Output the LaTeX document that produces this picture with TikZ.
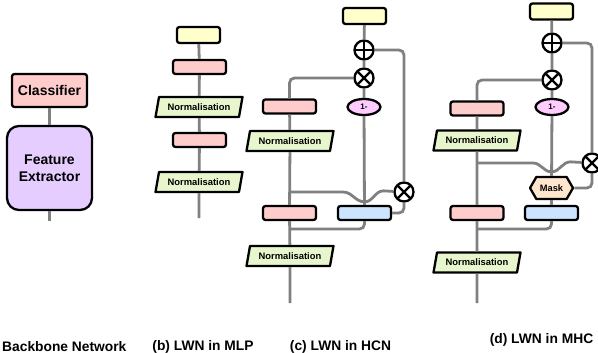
\documentclass[tikz,border=0pt]{standalone}
\usepackage{fontspec}
\setmainfont{Liberation Sans}
\usetikzlibrary{shapes.geometric,shapes.symbols,calc}
\definecolor{wiregray}{RGB}{128,128,128}
\definecolor{inyellow}{RGB}{255,255,204}
\definecolor{fcpink}{RGB}{255,204,204}
\definecolor{normgreen}{RGB}{232,246,206}
\definecolor{lwnblue}{RGB}{204,228,255}
\definecolor{fepurple}{RGB}{229,206,255}
\definecolor{onemagenta}{RGB}{255,204,255}
\definecolor{maskpeach}{RGB}{255,229,204}
\tikzset{
  wire/.style={draw=wiregray, line width=2.8pt, rounded corners=5pt},
  blk/.style={draw=black, line width=2.3pt, rounded corners=2.5pt, inner sep=0pt},
  inbox/.style={blk, fill=inyellow, minimum width=43pt, minimum height=16pt},
  fcbox/.style={blk, fill=fcpink, minimum width=53pt, minimum height=14pt},
  lwnbox/.style={blk, fill=lwnblue, minimum width=53pt, minimum height=14pt},
  normbox/.style={trapezium, trapezium left angle=63, trapezium right angle=117,
    trapezium stretches body, draw=black, line width=2.3pt, line join=round,
    fill=normgreen, minimum width=87pt, minimum height=20pt, inner sep=0pt,
    font=\bfseries\fontsize{9.4}{10}\selectfont},
  opnode/.style={circle, draw=black, line width=2.3pt, fill=white,
    minimum size=19pt, inner sep=0pt},
  plusop/.style={opnode, path picture={
    \draw[line width=2.3pt] (path picture bounding box.north) -- (path picture bounding box.south)
      (path picture bounding box.west) -- (path picture bounding box.east);}},
  timesop/.style={opnode, path picture={
    \draw[line width=2.3pt] (path picture bounding box.north west) -- (path picture bounding box.south east)
      (path picture bounding box.north east) -- (path picture bounding box.south west);}},
  onem/.style={ellipse, draw=black, line width=2.3pt, fill=onemagenta,
    minimum width=33pt, minimum height=16pt, inner sep=0pt,
    font=\bfseries\fontsize{8}{9}\selectfont},
  maskbox/.style={signal, signal to=west and east, signal pointer angle=120,
    draw=black, line width=2.3pt, line join=round, fill=maskpeach,
    minimum width=43pt, minimum height=22pt, inner sep=0pt,
    font=\bfseries\fontsize{9.3}{10}\selectfont},
  caption/.style={font=\bfseries\fontsize{13.8}{16}\selectfont, inner sep=0pt},
}

\begin{document}
\begin{tikzpicture}[x=1pt, y=-1pt]
  \useasboundingbox (0,0) rectangle (598,353);

  % (a) backbone
  \node[blk, fill=fcpink, minimum width=75pt, minimum height=33pt,
    font=\bfseries\fontsize{14}{17}\selectfont] (acls) at (49.5,90.5) {Classifier};
  \node[blk, fill=fepurple, rounded corners=12pt, minimum width=85pt, minimum height=84pt,
    align=center, font=\bfseries\fontsize{14}{17}\selectfont] (afe) at (49.5,168) {Feature\\Extractor};
  \coordinate (aend) at (49.5,221);
  \draw[wire] (acls) -- (afe);
  \draw[wire] (afe) -- (aend);

  % (b) MLP
  \node[inbox] (bin) at (198.5,35) {};
  \node[fcbox] (bfc1) at (199.5,67) {};
  \node[normbox] (bn1) at (199,107) {Normalisation};
  \node[fcbox] (bfc2) at (199.5,140) {};
  \node[normbox] (bn2) at (199,182) {Normalisation};
  \coordinate (bend) at (199,218);
  \draw[wire] (bin) -- (bfc1) -- (bn1) -- (bfc2) -- (bn2) -- (bend);

  % (c) HCN
  \node[inbox] (cin) at (364.5,16) {};
  \node[plusop] (cplus) at (364,50) {};
  \node[timesop] (ctimes) at (364,78) {};
  \node[onem] (cone) at (364,107) {1-};
  \node[fcbox] (cfc1) at (289.5,106.5) {};
  \node[normbox] (cn1) at (290,141) {Normalisation};
  \node[timesop] (ctimes2) at (404,192) {};
  \node[fcbox] (cfc2) at (289.5,213) {};
  \node[lwnbox] (clwn) at (364.5,213) {};
  \node[normbox] (cn2) at (290,256) {Normalisation};
  \coordinate (csplit) at (290,192);
  \coordinate (cjoin) at (290,229);
  \coordinate (cend) at (290,303);
  \draw[wire] (cin) -- (cplus) -- (ctimes) -- (cone) -- (clwn);
  \draw[wire] (cplus) -| (ctimes2);
  \draw[wire] (ctimes) -| (cfc1);
  \draw[wire] (cfc1) -- (cn1) -- (cfc2) -- (cn2) -- (cend);
  \draw[wire, sharp corners] (csplit) -- ++(53,0) to[out=0, in=180] ($(clwn.north)+(0,-3)$)
    to[out=0, in=180] ++(19,-11) -- (ctimes2);
  \draw[wire] (clwn) -| (ctimes2);
  \draw[wire] (clwn) |- (cjoin);

  % (d) MHC
  \node[inbox] (din) at (551.5,11.5) {};
  \node[plusop] (dplus) at (552,43) {};
  \node[timesop] (dtimes) at (552,80) {};
  \node[onem] (done) at (552,107) {1-};
  \node[fcbox] (dfc1) at (477,108.5) {};
  \node[normbox] (dn1) at (477,140.5) {Normalisation};
  \node[timesop] (dtimes2) at (592,163) {};
  \node[maskbox] (dmask) at (551.5,188) {Mask};
  \node[lwnbox] (dlwn) at (551.5,213) {};
  \node[fcbox] (dfc2) at (477,213) {};
  \node[normbox] (dn2) at (477,262.5) {Normalisation};
  \coordinate (dsplit) at (477,163);
  \coordinate (djoin) at (477,229);
  \coordinate (dend) at (477,303);
  \draw[wire] (din) -- (dplus) -- (dtimes) -- (done) -- (dmask) -- (dlwn);
  \draw[wire] (dplus) -| (dtimes2);
  \draw[wire] (dtimes) -| (dfc1);
  \draw[wire] (dfc1) -- (dn1) -- (dfc2) -- (dn2) -- (dend);
  \draw[wire, sharp corners] (dsplit) -- ++(56,0) to[out=0, in=180] ($(dmask.north)+(0,-4)$)
    to[out=0, in=180] ++(19,-10) -- (dtimes2);
  \draw[wire] (dmask) -| (dtimes2);
  \draw[wire] (dlwn) |- (djoin);

  % captions
  \node[caption, anchor=west] (capa) at (2,346.5) {Backbone Network};
  \node[caption] (capb) at (203,346.5) {(b) LWN in MLP};
  \node[caption] (capc) at (340.5,346.5) {(c) LWN in HCN};
  \node[caption] (capd) at (541.5,340) {(d) LWN in MHC};
\end{tikzpicture}
\end{document}
